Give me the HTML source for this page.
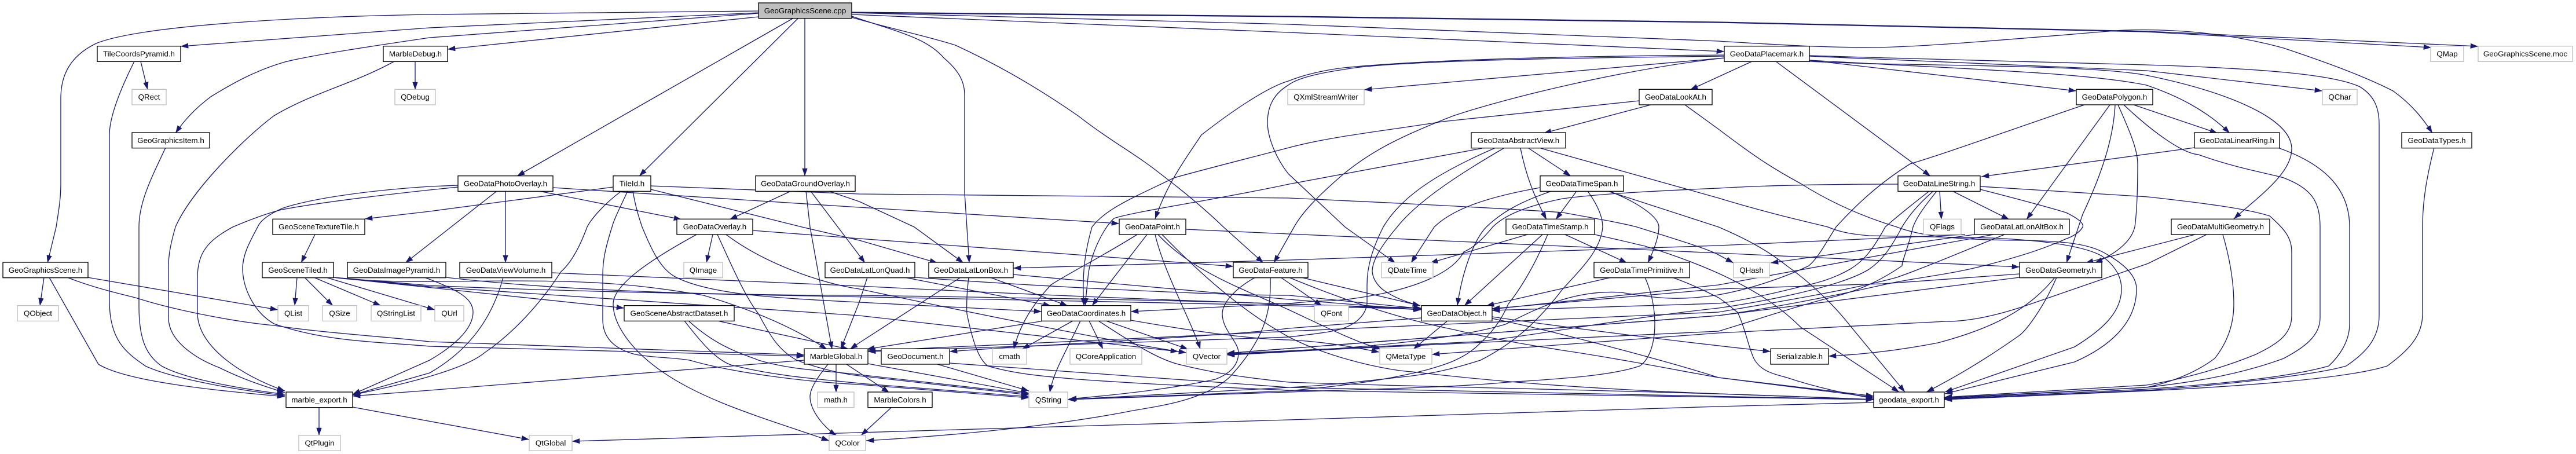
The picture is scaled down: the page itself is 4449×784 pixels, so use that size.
<!DOCTYPE html>
<html><head><meta charset="utf-8"><style>
html,body{margin:0;padding:0;background:#fff}
svg{display:block}
text{font-family:"Liberation Sans",sans-serif;font-size:13.33px;text-anchor:middle;fill:#000}
.e path{fill:none;stroke:#191970;stroke-width:1.33;marker-end:url(#a)}
.n{fill:#fff;stroke:#000;stroke-width:1.33}
.g{fill:#fff;stroke:#bfbfbf;stroke-width:1.33}
</style></head><body>
<svg xmlns="http://www.w3.org/2000/svg" width="4449" height="784" viewBox="0 0 4449 784">
<defs><marker id="a" markerUnits="userSpaceOnUse" markerWidth="14" markerHeight="10" refX="13.3" refY="4.67" orient="auto"><polygon points="0,0 13.3,4.67 0,9.33" fill="#191970"/></marker></defs>
<g class="e">
<path d="M1310 19L742 25C500 29 240 45 166 75C125 95 105 125 105 170L105 317C105 345 101 365 97 392L82 454"/>
<path d="M1310 22L742 48L312 80"/>
<path d="M1310 23L742 65C640 80 540 95 492 107C440 122 400 145 364 167C340 185 320 205 303 230"/>
<path d="M1310 29L773 85"/>
<path d="M1369 32L893 304"/>
<path d="M1378 32L1104 304"/>
<path d="M1390 32L1390 304"/>
<path d="M1471 21L2226 28L2968 38L3707 54L4280 80"/>
<path d="M1471 22L2226 29L2968 39L3707 55L4199 82"/>
<path d="M1471 22L2226 42L2968 71C3080 78 3150 82 3233 82C3320 82 3540 62 3654 53C3680 51 3720 51 3754 53C3820 56 3890 68 3944 83C4010 105 4080 130 4133 157C4165 180 4185 205 4201 230"/>
<path d="M1471 25L2226 56L2978 89"/>
<path d="M1471 30C1540 50 1600 62 1650 78C1720 110 1790 150 1862 200C1920 245 1960 265 2004 300C2050 335 2085 365 2113 392L2182 454"/>
<path d="M1471 28C1550 55 1600 65 1630 100C1660 125 1666 145 1666 165L1666 333L1674 454"/>
<path d="M2978 95C2700 97 2460 103 2321 117C2280 122 2250 130 2225 140C2190 150 2130 190 2075 233C2040 285 2015 320 1995 378"/>
<path d="M2978 97C2700 100 2400 105 2321 120C2280 126 2240 135 2225 147C2195 165 2189 190 2189 213C2190 240 2205 275 2225 300L2323 392L2410 454"/>
<path d="M2978 100L2356 155"/>
<path d="M2978 100C2800 120 2600 170 2510 200C2420 235 2370 260 2321 300C2280 335 2250 365 2235 392L2200 454"/>
<path d="M3026 106L2919 155"/>
<path d="M3067 106L3334 304"/>
<path d="M3125 104L3586 157"/>
<path d="M3125 104C3400 120 3600 125 3707 147C3760 165 3810 190 3851 230"/>
<path d="M3125 97L3707 122L4011 157"/>
<path d="M3125 106C3300 115 3600 110 3707 130C3830 155 3958 200 3958 257C3958 300 3900 340 3858 378"/>
<path d="M3125 96C3350 103 3600 110 3707 112C3900 118 4030 128 4076 150C4100 165 4109 185 4109 215L4109 545C4109 585 4085 610 4052 632C3990 650 3800 668 3707 674L3358 690"/>
<path d="M2851 181L2666 230"/>
<path d="M2831 174C2700 188 2491 210 2491 210C2400 225 2300 235 2226 255C2130 280 2070 295 2028 307C1960 340 1910 360 1886 392C1875 430 1868 470 1872 528"/>
<path d="M2910 181L2968 223C3030 270 3060 290 3110 317C3170 355 3230 378 3276 392C3310 405 3360 414 3488 415C3560 416 3610 420 3640 440C3675 460 3690 480 3690 499C3690 560 3640 600 3583 625L3359 680"/>
<path d="M2560 256L2226 318C2100 345 1960 365 1924 377C1905 395 1886 435 1880 470L1874 528"/>
<path d="M2581 256C2480 300 2420 340 2389 392C2370 430 2361 460 2361 492L2361 525C2358 545 2340 565 2300 572C2280 576 2250 579 2226 582L1499 607"/>
<path d="M2597 256C2530 295 2450 345 2413 392C2385 425 2370 450 2370 469C2372 490 2391 502 2391 502C2410 515 2430 522 2453 528"/>
<path d="M2626 256C2636 305 2650 340 2671 379"/>
<path d="M2640 256L2713 304"/>
<path d="M2661 256L2968 342C3060 370 3130 385 3157 392C3180 402 3205 405 3228 407L3441 411C3530 415 3600 425 3630 442C3655 460 3664 480 3664 499C3664 540 3630 570 3583 599L3359 677"/>
<path d="M2660 324C2570 340 2510 360 2477 392L2437 454"/>
<path d="M2680 330C2620 350 2590 370 2567 392C2545 415 2525 470 2517 528"/>
<path d="M2723 330L2687 379"/>
<path d="M2742 330C2760 355 2768 375 2768 392C2765 430 2735 460 2699 499C2660 550 2620 590 2557 622C2500 640 2470 645 2439 649C2340 660 2300 665 2226 669L1844 690"/>
<path d="M2779 330C2830 350 2865 375 2865 392C2865 410 2855 435 2846 454"/>
<path d="M2777 330L2968 392C3010 410 3050 430 3086 459C3130 490 3170 530 3195 562L3290 677"/>
<path d="M2638 405L2470 454"/>
<path d="M2664 405L2529 528"/>
<path d="M2673 405C2650 460 2625 500 2605 525C2590 560 2570 580 2557 592C2530 620 2495 630 2463 639C2380 660 2300 668 2226 675L1844 690"/>
<path d="M2703 405L2810 454"/>
<path d="M2754 405C2800 415 2840 425 2841 425C2890 440 2930 455 2968 472C3040 505 3080 535 3110 565L3280 677"/>
<path d="M2783 479L2567 528"/>
<path d="M2841 479C2855 510 2858 540 2858 559C2858 590 2850 620 2832 632C2780 650 2680 655 2604 660C2500 670 2350 672 2226 677L1844 690"/>
<path d="M2888 479C2920 490 2950 505 2968 514C2985 525 3000 540 3001 539C3015 570 3020 600 3029 619C3040 640 3060 645 3086 652C3140 670 3190 680 3236 688"/>
<path d="M2500 554L2441 603"/>
<path d="M2455 549L2226 567C2100 582 1800 595 1640 607"/>
<path d="M2577 547C2700 565 2900 590 3058 607"/>
<path d="M2577 550C2700 575 2900 630 2968 652L3236 686"/>
<path d="M1803 554L1497 603"/>
<path d="M1853 554L1765 603"/>
<path d="M1881 554L1905 603"/>
<path d="M1866 554C1840 610 1820 640 1813 678"/>
<path d="M1910 554L2052 603"/>
<path d="M1897 554C1960 595 2000 620 2035 629C2100 645 2150 652 2226 660C2500 670 2900 675 3236 690"/>
<path d="M1953 553C2050 570 2150 585 2226 587C2290 590 2340 600 2382 608"/>
<path d="M1964 405C1900 445 1840 475 1815 492C1780 530 1760 565 1751 603"/>
<path d="M1981 405L1886 528"/>
<path d="M1995 405C2010 470 2060 560 2073 603"/>
<path d="M2007 405C2080 480 2150 540 2226 582C2300 620 2400 640 2439 642C2550 655 2700 670 2968 680L3236 690"/>
<path d="M2000 405C2060 470 2150 500 2226 535C2290 565 2340 590 2385 603"/>
<path d="M2048 396L2226 404L2968 437L3488 461"/>
<path d="M2168 479C2130 500 2111 525 2111 542C2111 570 2139 590 2139 609C2139 630 2125 645 2099 655C2030 670 1950 680 1846 689"/>
<path d="M2194 479C2195 530 2190 580 2123 652C2080 690 2010 700 1957 709C1800 740 1600 755 1496 761"/>
<path d="M2212 479L2283 528"/>
<path d="M2247 479L2453 528"/>
<path d="M2226 479C2350 530 2440 555 2510 569C2600 590 2650 597 2699 605C2800 620 2900 640 2968 652L3236 684"/>
<path d="M1659 479L1484 592L1468 603"/>
<path d="M1673 479C1668 520 1670 542 1670 542C1680 590 1690 620 1706 632C1750 645 1800 650 1862 655C2000 665 2100 668 2226 674C2700 680 3000 688 3236 690"/>
<path d="M1710 479L1844 528"/>
<path d="M1750 474L2226 517L2454 535"/>
<path d="M1498 479L1484 522L1452 603"/>
<path d="M1562 479L1815 528"/>
<path d="M1580 479C1800 495 2100 510 2226 510L2455 533"/>
<path d="M1203 405C1130 445 1059 490 1059 525C1059 560 1090 605 1144 642C1220 695 1330 725 1432 761"/>
<path d="M1231 405L1220 454"/>
<path d="M1239 405C1260 450 1285 510 1310 542C1330 580 1345 605 1376 622C1410 635 1450 645 1484 649L1777 682"/>
<path d="M1300 398L1484 412L2130 460"/>
<path d="M1254 405C1320 455 1420 490 1484 499C1700 545 1950 595 2049 609"/>
<path d="M1366 330L1260 379"/>
<path d="M1392 330L1399 392L1437 603"/>
<path d="M1400 330L1447 392L1494 454"/>
<path d="M1431 330L1484 348L1579 392L1664 454"/>
<path d="M791 320L742 322C620 330 530 345 487 360C465 370 450 380 445 392C430 420 419 440 419 465C420 500 440 540 473 559C560 590 650 590 742 598L1389 615"/>
<path d="M791 323L742 328C650 338 550 350 487 362C465 367 430 380 402 392C360 415 341 435 341 480L341 540C341 600 420 650 492 675"/>
<path d="M858 330L700 454"/>
<path d="M873 330L873 454"/>
<path d="M931 330L1177 379"/>
<path d="M955 324L1484 358L1933 386"/>
<path d="M1059 323L742 365L630 378"/>
<path d="M1073 330C1040 355 1020 380 1014 392C1000 430 985 455 969 469C930 530 880 580 837 609C800 640 690 665 609 682"/>
<path d="M1084 330C1070 360 1060 380 1057 392C1045 430 1041 450 1041 475L1041 552C1041 590 1070 605 1097 612C1130 618 1160 617 1191 622C1270 645 1400 660 1484 664L1777 687"/>
<path d="M1093 330C1098 360 1105 380 1109 392C1125 430 1140 465 1168 479C1230 510 1350 515 1484 522L1799 538"/>
<path d="M1124 321L1484 335L2226 342C2400 350 2600 360 2699 367C2760 378 2800 385 2827 392C2900 415 2950 430 2968 440L2994 454"/>
<path d="M1124 327L1385 392L1484 415L1619 454"/>
<path d="M770 479C950 500 1200 510 1484 510C1800 515 2200 520 2455 535"/>
<path d="M733 479C790 500 817 515 817 539C817 570 780 600 742 622L609 681"/>
<path d="M953 471L1484 494C1900 515 2200 525 2455 532"/>
<path d="M869 479C850 550 810 605 742 644L609 682"/>
<path d="M544 405L520 454"/>
<path d="M513 479L509 528"/>
<path d="M526 479L575 528"/>
<path d="M542 479L658 528"/>
<path d="M563 479L751 535"/>
<path d="M576 479L1078 532"/>
<path d="M576 479C650 490 800 485 884 485C1020 485 1100 490 1215 510C1300 535 1370 565 1428 603"/>
<path d="M576 479L742 495L1484 545L2035 607"/>
<path d="M576 479L742 493C1100 510 1800 515 2455 534"/>
<path d="M1239 554L1466 603"/>
<path d="M1182 554C1210 590 1235 620 1262 630C1340 650 1420 655 1484 662L1777 685"/>
<path d="M1189 554C1240 600 1280 610 1310 622C1370 640 1430 640 1484 647L1777 680"/>
<path d="M1389 622L742 674L609 684"/>
<path d="M1430 629C1405 660 1399 675 1399 685C1399 710 1425 740 1445 752"/>
<path d="M1444 629L1444 678"/>
<path d="M1462 629L1536 678"/>
<path d="M1499 628L1777 679"/>
<path d="M551 703L551 752"/>
<path d="M609 703L914 759"/>
<path d="M3236 695L2968 702L2226 725L1484 747L988 762"/>
<path d="M1539 704L1487 752"/>
<path d="M1619 629L1777 675"/>
<path d="M1640 627L2226 669C2700 680 3000 688 3236 690"/>
<path d="M76 479L69 528"/>
<path d="M85 479L170 629C220 660 380 675 492 685"/>
<path d="M151 479L480 535"/>
<path d="M116 479C170 500 220 510 237 515C300 535 400 555 473 562C560 575 650 580 742 590L1389 613"/>
<path d="M243 106L255 155"/>
<path d="M232 106C200 170 189 210 189 233L189 520C189 590 220 610 251 632C300 655 420 675 492 683"/>
<path d="M286 255C260 310 240 350 240 392L240 530C240 590 255 615 279 632C320 655 420 672 492 681"/>
<path d="M681 106C610 145 540 160 473 200C420 240 330 330 303 392C295 420 291 440 291 459L291 549C291 590 340 620 379 635C420 655 450 665 492 678"/>
<path d="M717 106L717 155"/>
<path d="M3600 181C3470 225 3360 265 3299 283C3240 320 3200 360 3171 392C3150 425 3140 445 3124 459C3080 480 3020 500 2968 509C2900 520 2860 515 2800 505C2720 500 2660 530 2600 560C2500 590 2300 605 2119 613"/>
<path d="M3644 181L3500 379"/>
<path d="M3653 181C3650 240 3630 300 3597 370L3569 454"/>
<path d="M3658 181C3680 230 3692 260 3692 283C3692 340 3690 370 3687 392C3680 420 3650 440 3618 454"/>
<path d="M3668 181C3720 230 3770 265 3797 267C3860 290 3920 300 3944 307C3990 325 4007 345 4007 392L4007 549C4007 580 3980 600 3944 619C3860 650 3770 662 3707 669L3358 688"/>
<path d="M3685 181L3830 230"/>
<path d="M3790 255L3422 305"/>
<path d="M3934 255C4020 285 4058 330 4058 392L4058 559C4058 590 4040 615 4022 632C3940 655 3800 665 3707 672L3358 689"/>
<path d="M3278 318C3150 318 3050 320 2968 325C2850 330 2760 335 2699 343C2640 355 2600 370 2578 392C2555 420 2540 430 2528 435C2510 470 2450 495 2377 509C2330 518 2300 520 2273 520L2226 524L1953 538"/>
<path d="M3332 330C3300 355 3275 375 3256 392C3235 430 3220 450 3195 465C3160 485 3130 490 3110 495C3050 510 3000 520 2968 524L2577 536"/>
<path d="M3339 330C3310 355 3295 375 3285 392C3265 430 3250 450 3228 465C3180 495 3050 520 2968 532C2800 550 2650 580 2550 590L2119 611"/>
<path d="M3345 330C3325 355 3310 375 3304 392C3295 430 3285 450 3285 459C3240 490 3200 505 3157 515C3100 530 3040 550 2968 572L2119 612"/>
<path d="M3350 330L3353 379"/>
<path d="M3372 330L3470 379"/>
<path d="M3420 322L3710 340C3800 350 3880 360 3920 373C3945 395 3958 410 3958 435L3958 545C3958 580 3930 595 3896 612C3840 635 3770 655 3707 665L3358 686"/>
<path d="M3420 327C3490 345 3545 360 3568 367C3585 375 3600 385 3597 392C3590 405 3570 412 3569 412C3530 430 3480 445 3441 455C3370 475 3300 480 3252 492C3150 515 3040 535 2968 545L2119 610"/>
<path d="M3791 405L3602 454"/>
<path d="M3811 405L3710 455L3507 525C3450 545 3400 555 3361 555L2968 575L2473 612"/>
<path d="M3839 405C3855 460 3858 500 3858 525C3858 570 3840 600 3825 619C3790 645 3750 660 3707 669L3358 687"/>
<path d="M3410 405L3058 454"/>
<path d="M3443 405L2968 492L2577 534"/>
<path d="M3462 405C3400 430 3330 460 3276 479C3200 500 3050 525 2968 539L2226 572L1499 606"/>
<path d="M3394 405L2968 424L2226 449L1750 463"/>
<path d="M3488 473L3252 490L2968 499L2577 533"/>
<path d="M3488 479L2968 545L2119 610"/>
<path d="M3549 479C3500 540 3430 570 3347 592C3280 605 3220 612 3158 615"/>
<path d="M3552 479C3530 530 3500 570 3488 579C3430 620 3380 650 3327 677"/>
<path d="M4204 255C4190 310 4184 350 4184 392L4184 542C4184 580 4160 605 4123 632C4050 655 3850 668 3707 675L3358 690"/>
</g>
<g>
<rect x="1310" y="5" width="161" height="26.67" fill="#bfbfbf" stroke="#000" stroke-width="1.33"/><text x="1390.5" y="22.8">GeoGraphicsScene.cpp</text>

<rect class="n" x="168" y="79.7" width="144" height="26.67"/><text x="240" y="97.5">TileCoordsPyramid.h</text>
<rect class="n" x="662" y="79.7" width="111" height="26.67"/><text x="717.5" y="97.5">MarbleDebug.h</text>
<rect class="n" x="2978" y="79.7" width="147" height="26.67"/><text x="3051.5" y="97.5">GeoDataPlacemark.h</text>
<rect class="g" x="4198" y="79.7" width="57" height="26.67"/><text x="4226.5" y="97.5">QMap</text>
<rect class="g" x="4280" y="79.7" width="163" height="26.67"/><text x="4361.5" y="97.5">GeoGraphicsScene.moc</text>

<rect class="g" x="228" y="154.3" width="59" height="26.67"/><text x="257.5" y="172.1">QRect</text>
<rect class="g" x="682" y="154.3" width="70" height="26.67"/><text x="717" y="172.1">QDebug</text>
<rect class="g" x="2224" y="154.3" width="132" height="26.67"/><text x="2290" y="172.1">QXmlStreamWriter</text>
<rect class="n" x="2831" y="154.3" width="126" height="26.67"/><text x="2894" y="172.1">GeoDataLookAt.h</text>
<rect class="n" x="3586" y="154.3" width="132" height="26.67"/><text x="3652" y="172.1">GeoDataPolygon.h</text>
<rect class="g" x="4011" y="154.3" width="60" height="26.67"/><text x="4041" y="172.1">QChar</text>

<rect class="n" x="228" y="229" width="134" height="26.67"/><text x="295" y="246.8">GeoGraphicsItem.h</text>
<rect class="n" x="2541" y="229" width="163" height="26.67"/><text x="2622.5" y="246.8">GeoDataAbstractView.h</text>
<rect class="n" x="3790" y="229" width="147" height="26.67"/><text x="3863.5" y="246.8">GeoDataLinearRing.h</text>
<rect class="n" x="4148" y="229" width="121" height="26.67"/><text x="4208.5" y="246.8">GeoDataTypes.h</text>

<rect class="n" x="791" y="303.7" width="164" height="26.67"/><text x="873" y="321.5">GeoDataPhotoOverlay.h</text>
<rect class="n" x="1059" y="303.7" width="65" height="26.67"/><text x="1091.5" y="321.5">TileId.h</text>
<rect class="n" x="1305" y="303.7" width="172" height="26.67"/><text x="1391" y="321.5">GeoDataGroundOverlay.h</text>
<rect class="n" x="2660" y="303.7" width="144" height="26.67"/><text x="2732" y="321.5">GeoDataTimeSpan.h</text>
<rect class="n" x="3278" y="303.7" width="142" height="26.67"/><text x="3349" y="321.5">GeoDataLineString.h</text>

<rect class="n" x="471" y="378.3" width="159" height="26.67"/><text x="550.5" y="396.1">GeoSceneTextureTile.h</text>
<rect class="n" x="1169" y="378.3" width="131" height="26.67"/><text x="1234.5" y="396.1">GeoDataOverlay.h</text>
<rect class="n" x="1933" y="378.3" width="115" height="26.67"/><text x="1990.5" y="396.1">GeoDataPoint.h</text>
<rect class="n" x="2601" y="378.3" width="153" height="26.67"/><text x="2677.5" y="396.1">GeoDataTimeStamp.h</text>
<rect class="g" x="3322" y="378.3" width="65" height="26.67"/><text x="3354.5" y="396.1">QFlags</text>
<rect class="n" x="3410" y="378.3" width="164" height="26.67"/><text x="3492" y="396.1">GeoDataLatLonAltBox.h</text>
<rect class="n" x="3750" y="378.3" width="170" height="26.67"/><text x="3835" y="396.1">GeoDataMultiGeometry.h</text>

<rect class="n" x="5" y="453" width="147" height="26.67"/><text x="78.5" y="470.8">GeoGraphicsScene.h</text>
<rect class="n" x="453" y="453" width="123" height="26.67"/><text x="514.5" y="470.8">GeoSceneTiled.h</text>
<rect class="n" x="600" y="453" width="170" height="26.67"/><text x="685" y="470.8">GeoDataImagePyramid.h</text>
<rect class="n" x="794" y="453" width="159" height="26.67"/><text x="873.5" y="470.8">GeoDataViewVolume.h</text>
<rect class="g" x="1181" y="453" width="67" height="26.67"/><text x="1214.5" y="470.8">QImage</text>
<rect class="n" x="1425" y="453" width="155" height="26.67"/><text x="1502.5" y="470.8">GeoDataLatLonQuad.h</text>
<rect class="n" x="1604" y="453" width="146" height="26.67"/><text x="1677" y="470.8">GeoDataLatLonBox.h</text>
<rect class="n" x="2130" y="453" width="129" height="26.67"/><text x="2194.5" y="470.8">GeoDataFeature.h</text>
<rect class="g" x="2386" y="453" width="89" height="26.67"/><text x="2430.5" y="470.8">QDateTime</text>
<rect class="n" x="2753" y="453" width="165" height="26.67"/><text x="2835.5" y="470.8">GeoDataTimePrimitive.h</text>
<rect class="g" x="2994" y="453" width="62" height="26.67"/><text x="3025" y="470.8">QHash</text>
<rect class="n" x="3488" y="453" width="142" height="26.67"/><text x="3559" y="470.8">GeoDataGeometry.h</text>

<rect class="g" x="30" y="527.7" width="71" height="26.67"/><text x="65.5" y="545.5">QObject</text>
<rect class="g" x="480" y="527.7" width="53" height="26.67"/><text x="506.5" y="545.5">QList</text>
<rect class="g" x="557" y="527.7" width="59" height="26.67"/><text x="586.5" y="545.5">QSize</text>
<rect class="g" x="641" y="527.7" width="86" height="26.67"/><text x="684" y="545.5">QStringList</text>
<rect class="g" x="751" y="527.7" width="50" height="26.67"/><text x="776" y="545.5">QUrl</text>
<rect class="n" x="1078" y="527.7" width="190" height="26.67"/><text x="1173" y="545.5">GeoSceneAbstractDataset.h</text>
<rect class="n" x="1799" y="527.7" width="154" height="26.67"/><text x="1876" y="545.5">GeoDataCoordinates.h</text>
<rect class="g" x="2270" y="527.7" width="59" height="26.67"/><text x="2299.5" y="545.5">QFont</text>
<rect class="n" x="2455" y="527.7" width="122" height="26.67"/><text x="2516" y="545.5">GeoDataObject.h</text>

<rect class="n" x="1389" y="602.3" width="110" height="26.67"/><text x="1444" y="620.1">MarbleGlobal.h</text>
<rect class="n" x="1522" y="602.3" width="118" height="26.67"/><text x="1581" y="620.1">GeoDocument.h</text>
<rect class="g" x="1714" y="602.3" width="59" height="26.67"/><text x="1743.5" y="620.1">cmath</text>
<rect class="g" x="1848" y="602.3" width="124" height="26.67"/><text x="1910" y="620.1">QCoreApplication</text>
<rect class="g" x="2049" y="602.3" width="70" height="26.67"/><text x="2084" y="620.1">QVector</text>
<rect class="g" x="2383" y="602.3" width="90" height="26.67"/><text x="2428" y="620.1">QMetaType</text>
<rect class="n" x="3058" y="602.3" width="100" height="26.67"/><text x="3108" y="620.1">Serializable.h</text>

<rect class="n" x="494" y="677" width="115" height="26.67"/><text x="551.5" y="694.8">marble_export.h</text>
<rect class="g" x="1412" y="677" width="63" height="26.67"/><text x="1443.5" y="694.8">math.h</text>
<rect class="n" x="1499" y="677" width="111" height="26.67"/><text x="1554.5" y="694.8">MarbleColors.h</text>
<rect class="g" x="1777" y="677" width="67" height="26.67"/><text x="1810.5" y="694.8">QString</text>
<rect class="n" x="3236" y="677" width="122" height="26.67"/><text x="3297" y="694.8">geodata_export.h</text>

<rect class="g" x="516" y="751.7" width="72" height="26.67"/><text x="552" y="769.5">QtPlugin</text>
<rect class="g" x="914" y="751.7" width="74" height="26.67"/><text x="951" y="769.5">QtGlobal</text>
<rect class="g" x="1432" y="751.7" width="63" height="26.67"/><text x="1463.5" y="769.5">QColor</text>
</g>
</svg>
</body></html>
